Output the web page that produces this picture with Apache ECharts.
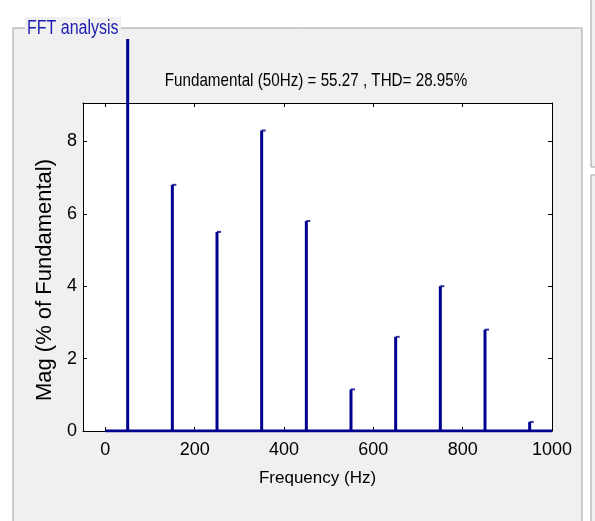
<!DOCTYPE html>
<html>
<head>
<meta charset="utf-8">
<script src="https://cdn.jsdelivr.net/npm/echarts@6/dist/echarts.min.js"></script>
<style>
  html, body { margin: 0; padding: 0; background: #ffffff; }
  #fft { width: 595px; height: 521px; }
</style>
</head>
<body>
<div id="fft"></div>
<script>
var myChart = echarts.init(document.getElementById('fft'));

// harmonic spectrum (% of fundamental)
var freqs = [50, 150, 250, 350, 450, 550, 650, 750, 850, 950];
var mags = [100, 6.8, 5.5, 8.3, 5.8, 1.15, 2.6, 4.0, 2.8, 0.25];
// near-zero floor between harmonics
var floorLine = [[0, 0], [1000, 0]];
var xTicks = [0, 200, 400, 600, 800, 1000];
var yTicks = [0, 2, 4, 6, 8];
var infoText = 'Fundamental (50Hz) = 55.27 , THD= 28.95%';

var font = "'Liberation Sans', Arial, sans-serif";
var blue = '#00008f';

var stemData = freqs.map(function (f, i) { return [f, mags[i]]; });

function plain(v) { return String(v); }

var option = {
  backgroundColor: '#ffffff',
  animation: false,
  graphic: [
    { type: 'rect', z: -10, shape: { x: 13, y: 28, width: 569, height: 520 },
      style: { fill: '#f0f0f0', stroke: '#a0a0a0', lineWidth: 1 } },
    { type: 'rect', z: -10, shape: { x: 591, y: -10, width: 30, height: 177 },
      style: { fill: '#f0f0f0', stroke: '#a0a0a0', lineWidth: 1 } },
    { type: 'rect', z: -10, shape: { x: 591, y: 175, width: 30, height: 400 },
      style: { fill: '#f0f0f0', stroke: '#a0a0a0', lineWidth: 1 } },
    { type: 'rect', z: 4, shape: { x: 25, y: 17, width: 96, height: 22 },
      style: { fill: '#f0f0f0' } },
    { type: 'text', z: 5, x: 27, y: 18, scaleX: 0.8,
      style: { text: 'FFT analysis', fill: '#1c1cb0', font: '20px ' + font } },
    { type: 'text', z: 5, x: 316, y: 81, scaleX: 0.8,
      style: { text: infoText, fill: '#000', font: '19px ' + font,
               align: 'center', verticalAlign: 'middle' } }
  ],
  grid: [
    { left: 83, right: 43, top: 103, bottom: 90, show: true,
      backgroundColor: '#ffffff', borderWidth: 0 },
    { left: 83, right: 43, top: 39, bottom: 90, show: false }
  ],
  xAxis: [
    { gridIndex: 0, type: 'value', min: -50, max: 1000, position: 'bottom',
      name: 'Frequency (Hz)', nameLocation: 'middle', nameGap: 39,
      nameTextStyle: { color: '#000', fontFamily: font, fontSize: 17 },
      axisLine: { show: true, onZero: false, lineStyle: { color: '#000', width: 1 } },
      axisTick: { show: true, inside: true, length: 4, customValues: xTicks,
                  lineStyle: { color: '#000' } },
      axisLabel: { customValues: xTicks, formatter: plain, color: '#000',
                   fontFamily: font, fontSize: 18, margin: 10 },
      splitLine: { show: false } },
    { gridIndex: 0, type: 'value', min: -50, max: 1000, position: 'top',
      axisLine: { show: true, onZero: false, lineStyle: { color: '#000', width: 1 } },
      axisTick: { show: true, inside: true, length: 4, customValues: xTicks,
                  lineStyle: { color: '#000' } },
      axisLabel: { show: false }, splitLine: { show: false } },
    { gridIndex: 1, type: 'value', min: -50, max: 1000, show: false }
  ],
  yAxis: [
    { gridIndex: 0, type: 'value', min: 0, max: 9.06, position: 'left',
      name: 'Mag (% of Fundamental)', nameLocation: 'middle', nameGap: 20,
      nameTextStyle: { color: '#000', fontFamily: font, fontSize: 22,
                       padding: [0, 26, 0, 0] },
      axisLine: { show: true, onZero: false, lineStyle: { color: '#000', width: 1 } },
      axisTick: { show: true, inside: true, length: 4, customValues: yTicks,
                  lineStyle: { color: '#000' } },
      axisLabel: { customValues: yTicks, color: '#000', fontFamily: font,
                   fontSize: 18, margin: 6 },
      splitLine: { show: false } },
    { gridIndex: 0, type: 'value', min: 0, max: 9.06, position: 'right',
      axisLine: { show: true, onZero: false, lineStyle: { color: '#000', width: 1 } },
      axisTick: { show: true, inside: true, length: 4, customValues: yTicks,
                  lineStyle: { color: '#000' } },
      axisLabel: { show: false }, splitLine: { show: false } },
    // same scale as the visible axes, taller so the fundamental shows above the box
    { gridIndex: 1, type: 'value', min: 0, max: 9.06 * 392 / 328, show: false }
  ],
  series: [
    {
      name: 'floor',
      type: 'line',
      xAxisIndex: 0, yAxisIndex: 0,
      data: floorLine,
      symbol: 'none',
      lineStyle: { color: blue, width: 3 },
      z: 3
    },
    {
      name: 'harmonics',
      type: 'bar',
      xAxisIndex: 2, yAxisIndex: 2,
      data: stemData,
      barWidth: 3,
      clip: true,
      itemStyle: { color: blue },
      z: 4
    },
    {
      name: 'caps',
      type: 'scatter',
      xAxisIndex: 2, yAxisIndex: 2,
      data: stemData,
      symbol: 'rect',
      symbolSize: [4, 2],
      symbolOffset: [2, 0],
      clip: true,
      itemStyle: { color: blue },
      z: 4
    }
  ]
};
myChart.setOption(option);
</script>
</body>
</html>
